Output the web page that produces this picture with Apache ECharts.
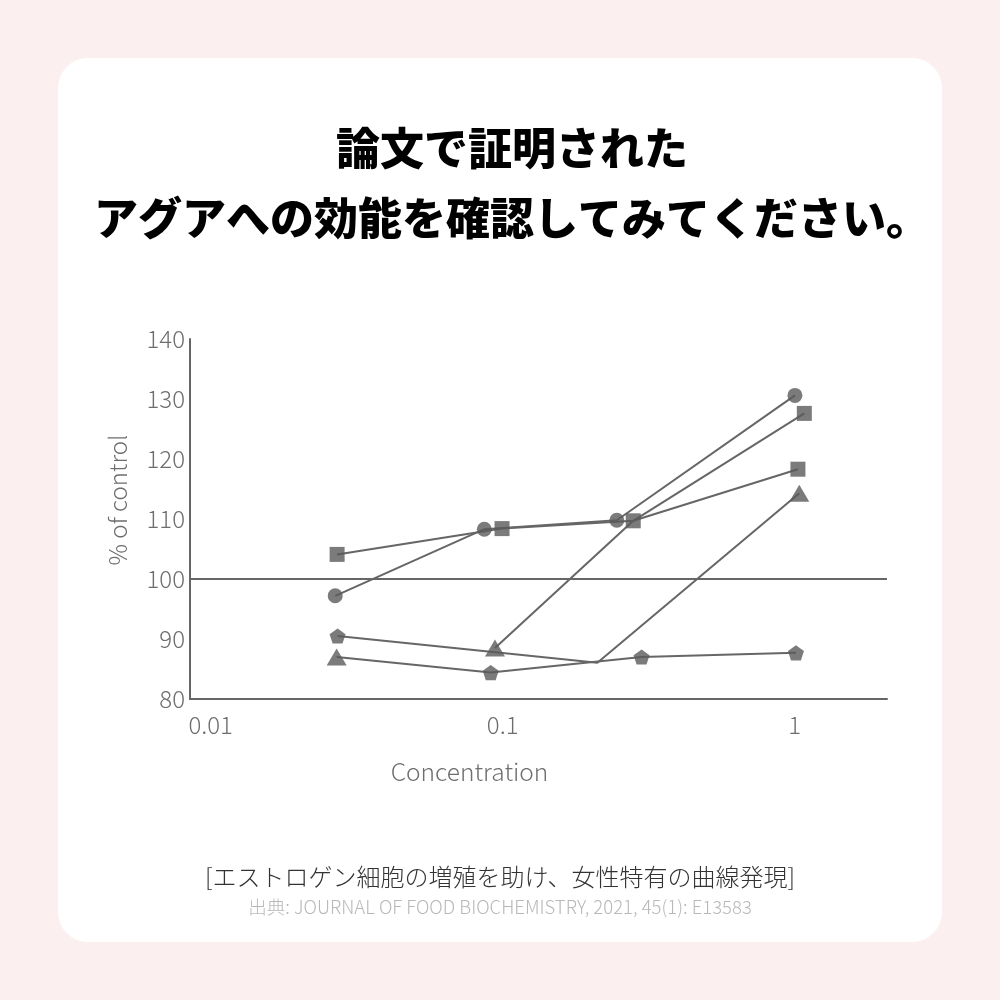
<!DOCTYPE html>
<html>
<head>
<meta charset="utf-8">
<script src="https://cdn.jsdelivr.net/npm/echarts@6/dist/echarts.min.js"></script>
<style>
html,body{margin:0;padding:0;background:#fcefef;}
#chart{width:1000px;height:1000px;}
</style>
</head>
<body>
<div id="chart"></div>
<script>
// ---- data ----
const titleLines = ['論文で証明された', 'アグアへの効能を確認してみてください。'];
const caption = '[エストロゲン細胞の増殖を助け、女性特有の曲線発現]';
const source = '出典: JOURNAL OF FOOD BIOCHEMISTRY, 2021, 45(1): E13583';
const xName = 'Concentration';
const yName = '% of control';
const xTicks = [0.01, 0.1, 1];
const yTicks = [80, 90, 100, 110, 120, 130, 140];

// markers: [concentration, % of control]
const circles   = [[0.0267, 97.2], [0.0865, 108.3], [0.246, 109.8], [1.002, 130.6]];
const squares   = [[0.0271, 104.1], [0.0995, 108.4], [0.280, 109.7], [1.079, 127.6], [1.026, 118.3]];
const triangles = [[0.0270, 87.0], [0.0941, 88.5], [1.037, 114.3]];
const pentagons = [[0.0272, 90.5], [0.0910, 84.4], [0.299, 87.0], [1.010, 87.7]];
const bend      = [0.211, 86.05];   // unmarked vertex where two lines turn
const reference = 100;

// connecting lines as drawn in the reference
const paths = [
  [circles[0], circles[1], circles[2], circles[3]],
  [squares[0], squares[1], squares[2], squares[3]],
  [triangles[1], squares[2], squares[4]],
  [pentagons[0], bend, triangles[2]],
  [triangles[0], pentagons[1], pentagons[2], pentagons[3]]
];

const GRAY = '#666666';
const MARK = '#5a5a5a';
const LABEL = '#6e6e6e';
const FONT = '"Noto Sans CJK JP", "Noto Sans", sans-serif';
const pentagonPath = 'path://M0,-10 L9.511,-3.09 L5.878,8.09 L-5.878,8.09 L-9.511,-3.09 Z';

const series = [];
paths.forEach((p, i) => {
  series.push({
    type: 'line', data: p, showSymbol: false, symbol: 'none',
    lineStyle: {color: GRAY, width: 2}, z: 2, silent: true,
    markLine: i === 0 ? {
      silent: true, symbol: 'none', label: {show: false},
      lineStyle: {color: GRAY, width: 2, type: 'solid'},
      data: [{yAxis: reference}]
    } : undefined
  });
});
series.push({type: 'scatter', data: circles, symbol: 'circle', symbolSize: 15, itemStyle: {color: MARK}, z: 5});
series.push({type: 'scatter', data: squares, symbol: 'rect', symbolSize: 15, itemStyle: {color: MARK}, z: 5});
series.push({type: 'scatter', data: triangles, symbol: 'triangle', symbolSize: [20, 17], itemStyle: {color: MARK}, z: 5});
series.push({type: 'scatter', data: pentagons, symbol: pentagonPath, symbolKeepAspect: true, symbolSize: 16, itemStyle: {color: MARK}, z: 5});

const chart = echarts.init(document.getElementById('chart'), null, {renderer: 'canvas'});
chart.setOption({
  backgroundColor: '#fcefef',
  animation: false,
  graphic: [{
    type: 'rect', z: -10, silent: true,
    shape: {x: 58, y: 58, width: 884, height: 884, r: 30},
    style: {fill: '#ffffff'}
  }],
  title: [
    {text: titleLines.join('\n'), left: 512, textAlign: 'center', top: 113, padding: 0,
     textStyle: {fontFamily: FONT, fontSize: 44, fontWeight: 900, color: '#000', lineHeight: 70}},
    {text: caption, left: 'center', top: 857,
     textStyle: {fontFamily: FONT, fontSize: 24, fontWeight: 300, color: '#333', lineHeight: 30}},
    {text: source, left: 'center', top: 890,
     textStyle: {fontFamily: FONT, fontSize: 18.5, fontWeight: 300, color: '#b8b8b8', lineHeight: 24}}
  ],
  grid: {left: 190, right: 113, top: 339, bottom: 301, containLabel: false},
  xAxis: {
    type: 'log', logBase: 10, min: 0.008495, max: 2.071,
    name: xName, nameLocation: 'middle', nameGap: 60,
    nameTextStyle: {fontFamily: FONT, fontSize: 24.5, fontWeight: 300, color: LABEL, padding: [0, 138, 0, 0]},
    axisLine: {lineStyle: {color: GRAY, width: 2}},
    axisTick: {show: false}, splitLine: {show: false},
    axisLabel: {
      fontFamily: FONT, fontSize: 24, fontWeight: 300, color: LABEL, margin: 14,
      showMinLabel: false, showMaxLabel: false,
      formatter: v => {
        const m = xTicks.find(t => Math.abs(Math.log10(t) - Math.log10(v)) < 1e-6);
        return m !== undefined ? String(m) : '';
      }
    }
  },
  yAxis: {
    type: 'value', min: yTicks[0], max: yTicks[yTicks.length - 1], interval: 10,
    name: yName, nameLocation: 'middle', nameGap: 60, nameRotate: 90,
    nameTextStyle: {fontFamily: FONT, fontSize: 24, fontWeight: 300, color: LABEL, padding: [0, 0, 0, 38]},
    axisLine: {show: true, lineStyle: {color: GRAY, width: 2}},
    axisTick: {show: false}, splitLine: {show: false},
    axisLabel: {fontFamily: FONT, fontSize: 24, fontWeight: 300, color: LABEL, margin: 5}
  },
  series: series
});
</script>
</body>
</html>
